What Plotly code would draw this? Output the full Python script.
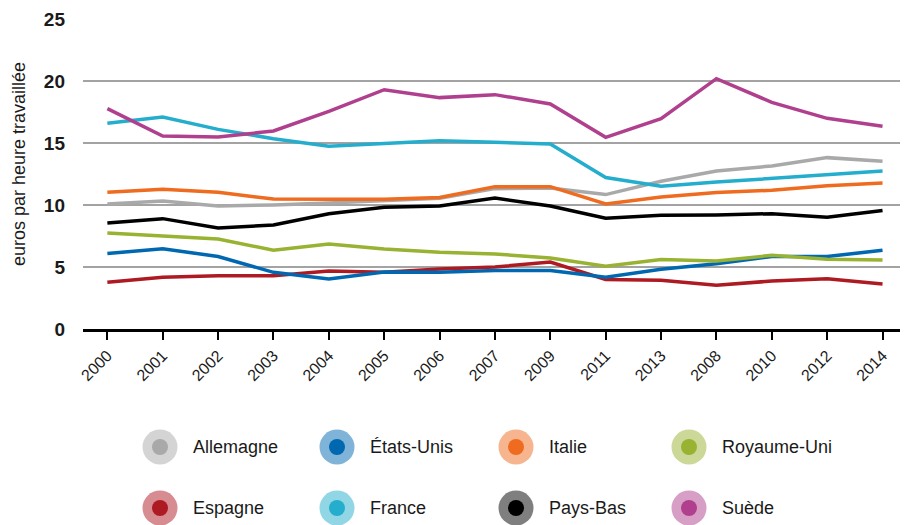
import plotly.graph_objects as go

years = ["2000", "2001", "2002", "2003", "2004", "2005", "2006", "2007",
         "2009", "2011", "2013", "2008", "2010", "2012", "2014"]

allemagne = [10.08, 10.32, 9.92, 10.0, 10.16, 10.38, 10.54, 11.32, 11.37, 10.84, 11.91, 12.74, 13.15, 13.82, 13.52]
etats_unis = [6.08, 6.48, 5.84, 4.57, 4.03, 4.6, 4.57, 4.71, 4.71, 4.17, 4.81, 5.27, 5.84, 5.84, 6.35]
italie = [11.02, 11.27, 11.02, 10.48, 10.46, 10.46, 10.6, 11.48, 11.48, 10.08, 10.65, 11.0, 11.19, 11.56, 11.77]
royaume_uni = [7.74, 7.5, 7.26, 6.35, 6.85, 6.45, 6.19, 6.05, 5.73, 5.06, 5.6, 5.48, 5.94, 5.62, 5.56]
espagne = [3.77, 4.17, 4.3, 4.3, 4.68, 4.57, 4.84, 5.0, 5.4, 4.0, 3.93, 3.52, 3.87, 4.06, 3.63]
france = [16.59, 17.1, 16.1, 15.35, 14.73, 14.95, 15.19, 15.06, 14.92, 12.21, 11.51, 11.85, 12.13, 12.45, 12.74]
pays_bas = [8.55, 8.9, 8.15, 8.39, 9.3, 9.81, 9.92, 10.56, 9.92, 8.93, 9.17, 9.19, 9.3, 9.01, 9.55]
suede = [17.77, 15.56, 15.48, 15.97, 17.55, 19.3, 18.66, 18.9, 18.15, 15.46, 16.97, 20.19, 18.28, 16.99, 16.35]

y_ticks = [0, 5, 10, 15, 20, 25]

series = [
    ("Allemagne", allemagne, "#a9a9a9"),
    ("États-Unis", etats_unis, "#0068b1"),
    ("Italie", italie, "#ee6b1f"),
    ("Royaume-Uni", royaume_uni, "#98b232"),
    ("Espagne", espagne, "#ad1a22"),
    ("France", france, "#24adcc"),
    ("Pays-Bas", pays_bas, "#000000"),
    ("Suède", suede, "#b0408e"),
]
# draw order (back to front)
draw_order = ["Espagne", "États-Unis", "Royaume-Uni", "Pays-Bas", "Allemagne", "Italie", "France", "Suède"]

fig = go.Figure()
lookup = {s[0]: s for s in series}
for name in draw_order:
    n, vals, col = lookup[name]
    fig.add_trace(go.Scatter(x=years, y=vals, mode="lines", name=n,
                             line=dict(color=col, width=3.5), showlegend=False))

# page has an 8px body margin: work in figure coordinates = screen - 8
OFF = 8
W, H = 900, 517
L, R, T, B = 83 - OFF, 0, 19 - OFF, 196
pw, ph = W - L - R, H - T - B


def px_x(xs):
    return (xs - OFF - L) / pw


def px_y(ys):
    return (H - B - (ys - OFF)) / ph


col_x = [160, 337, 516, 689]
row_y = [447, 508]
shapes = []
annotations = []
for i, (n, vals, col) in enumerate(series):
    cx = px_x(col_x[i % 4])
    cy = px_y(row_y[i // 4])
    shapes.append(dict(type="circle", xref="paper", yref="paper", xsizemode="pixel", ysizemode="pixel",
                       xanchor=cx, yanchor=cy, x0=-17.5, x1=17.5, y0=-17.5, y1=17.5,
                       fillcolor=col, opacity=0.5, line=dict(width=0)))
    shapes.append(dict(type="circle", xref="paper", yref="paper", xsizemode="pixel", ysizemode="pixel",
                       xanchor=cx, yanchor=cy, x0=-8, x1=8, y0=-8, y1=8,
                       fillcolor=col, line=dict(width=0)))
    annotations.append(dict(text=n, xref="paper", yref="paper", x=cx + 31 / pw, y=cy,
                            xanchor="left", yanchor="middle", showarrow=False,
                            font=dict(size=18, color="#1a1a1a")))

annotations.append(dict(text="euros par heure travaillée", xref="paper", yref="paper",
                        x=px_x(19), y=px_y(164), textangle=-90, showarrow=False,
                        xanchor="center", yanchor="middle",
                        font=dict(size=18, color="#1a1a1a")))

fig.update_layout(
    width=W, height=H,
    margin=dict(l=L, r=R, t=T, b=B, autoexpand=False),
    plot_bgcolor="white", paper_bgcolor="white",
    font=dict(family="Liberation Sans, Arial, sans-serif", color="#1a1a1a"),
    xaxis=dict(type="category", categoryorder="array", categoryarray=years,
               range=[-0.44, 14.46], showgrid=False, zeroline=False, automargin=False,
               showline=True, linecolor="black", linewidth=3,
               ticks="outside", ticklen=8, tickwidth=1.5, tickcolor="black",
               tickangle=-45, tickfont=dict(size=16, color="#1a1a1a")),
    yaxis=dict(range=[0, 25], tickvals=y_ticks, showgrid=True, gridcolor="#a3a3a3", gridwidth=2,
               zeroline=False, showline=False, ticks="", automargin=False,
               ticklabelstandoff=17,
               tickfont=dict(size=19, color="#1a1a1a", weight="bold")),
    shapes=shapes, annotations=annotations,
)

fig.write_html("out.html")
